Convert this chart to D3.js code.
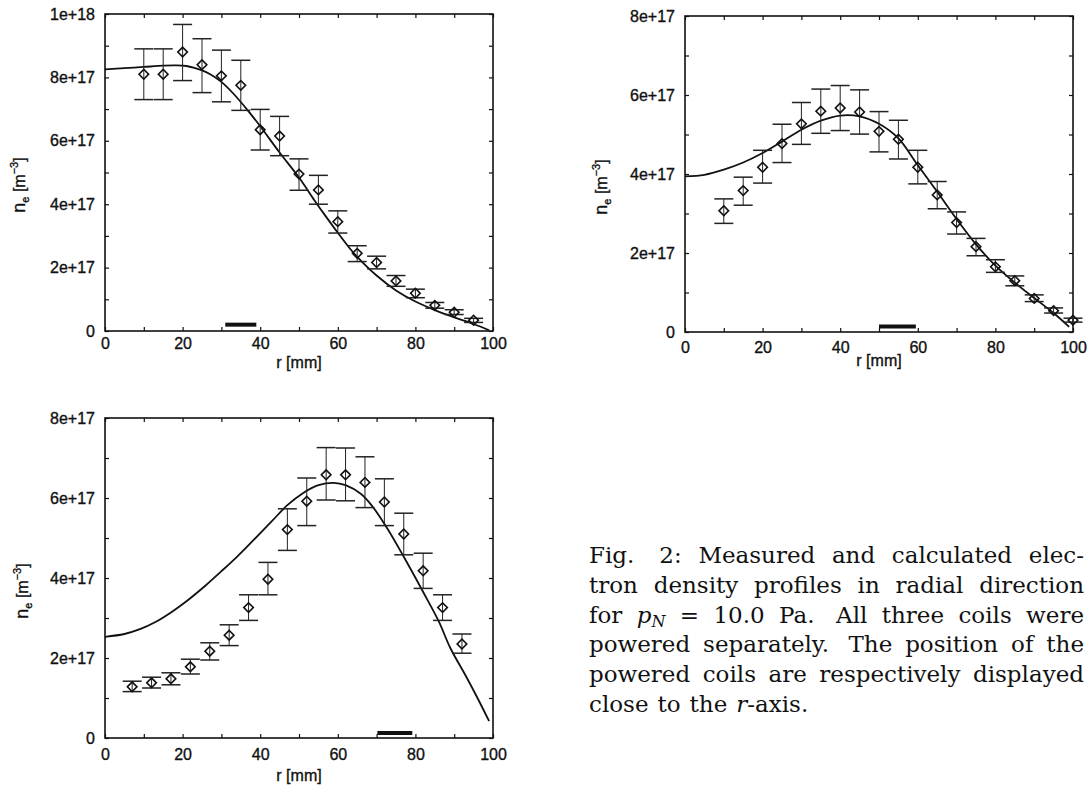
<!DOCTYPE html>
<html><head><meta charset="utf-8">
<script src="https://cdn.jsdelivr.net/npm/d3@7"></script>
<style>
html,body{margin:0;padding:0;background:#fff;}
svg{display:block;}
.tick text{font-family:"Liberation Sans",Arial,sans-serif;font-size:16px;fill:#111;stroke:#111;stroke-width:0.35px;}
.lab{font-family:"Liberation Sans",Arial,sans-serif;font-size:16px;fill:#111;stroke:#111;stroke-width:0.35px;}
.cap{font-family:"DejaVu Serif",serif;font-size:23px;fill:#111;}
</style></head><body>
<svg id="chart" width="1090" height="785"></svg>
<script>
// ================= DATA (densities in units of 1e17 m^-3, r in mm) =================
const xTickValues = [0, 20, 40, 60, 80, 100];
const xTickLabels = ["0", "20", "40", "60", "80", "100"];
const yTickValuesA = [0, 2, 4, 6, 8, 10];
const yTickLabelsA = ["0", "2e+17", "4e+17", "6e+17", "8e+17", "1e+18"];
const yTickValuesB = [0, 2, 4, 6, 8];
const yTickLabelsB = ["0", "2e+17", "4e+17", "6e+17", "8e+17"];

// Panel 1 (top left)
const r1   = [10, 15, 20, 25, 30, 35, 40, 45, 50, 55, 60, 65, 70, 75, 80, 85, 90, 95];
const ne1  = [8.1, 8.1, 8.8, 8.4, 8.05, 7.75, 6.35, 6.15, 4.95, 4.45, 3.45, 2.45, 2.16, 1.58, 1.19, 0.81, 0.59, 0.34];
const lo1  = [7.3, 7.3, 7.9, 7.52, 7.23, 6.96, 5.71, 5.53, 4.44, 4.0, 3.09, 2.19, 1.96, 1.41, 1.05, 0.72, 0.52, 0.27];
const hi1  = [8.9, 8.9, 9.67, 9.22, 8.86, 8.54, 6.99, 6.77, 5.43, 4.91, 3.79, 2.69, 2.36, 1.75, 1.32, 0.90, 0.67, 0.40];
const calcR1  = [0, 5, 10, 15, 18, 21, 25, 27, 30, 33, 37, 40, 45, 50, 54, 57, 60, 63, 65, 70, 75, 80, 85, 90, 95, 99];
const calcNe1 = [8.25, 8.29, 8.33, 8.37, 8.38, 8.36, 8.22, 8.11, 7.86, 7.5, 6.93, 6.46, 5.63, 4.84, 4.12, 3.6, 3.1, 2.62, 2.34, 1.75, 1.28, 0.93, 0.66, 0.43, 0.22, 0.02];
const coil1 = [31, 39];
const coilLevel1 = 0.2;

// Panel 2 (top right)
const r2   = [10, 15, 20, 25, 30, 35, 40, 45, 50, 55, 60, 65, 70, 75, 80, 85, 90, 95, 100];
const ne2  = [3.07, 3.58, 4.17, 4.77, 5.27, 5.59, 5.67, 5.57, 5.08, 4.88, 4.17, 3.47, 2.77, 2.16, 1.65, 1.30, 0.85, 0.54, 0.30];
const lo2  = [2.75, 3.21, 3.77, 4.29, 4.75, 5.03, 5.10, 5.01, 4.56, 4.38, 3.75, 3.12, 2.48, 1.93, 1.51, 1.17, 0.77, 0.48, 0.25];
const hi2  = [3.37, 3.92, 4.6, 5.26, 5.81, 6.15, 6.24, 6.13, 5.58, 5.36, 4.6, 3.81, 3.04, 2.37, 1.83, 1.42, 0.94, 0.61, 0.35];
const calcR2  = [0, 5, 10, 15, 20, 25, 30, 35, 40, 45, 50, 55, 60, 65, 70, 75, 80, 85, 90, 95, 99];
const calcNe2 = [3.94, 3.98, 4.11, 4.29, 4.53, 4.82, 5.12, 5.35, 5.48, 5.46, 5.27, 4.9, 4.22, 3.55, 2.86, 2.22, 1.68, 1.25, 0.86, 0.48, 0.13];
const coil2 = [50, 59.5];
const coilLevel2 = 0.14;

// Panel 3 (bottom left)
const r3   = [7, 12, 17, 22, 27, 32, 37, 42, 47, 52, 57, 62, 67, 72, 77, 82, 87, 92];
const ne3  = [1.28, 1.38, 1.48, 1.78, 2.17, 2.57, 3.26, 3.97, 5.21, 5.92, 6.58, 6.58, 6.39, 5.9, 5.1, 4.18, 3.26, 2.35];
const lo3  = [1.16, 1.25, 1.33, 1.6, 1.95, 2.31, 2.94, 3.58, 4.69, 5.31, 5.95, 5.93, 5.76, 5.31, 4.58, 3.74, 2.94, 2.12];
const hi3  = [1.42, 1.52, 1.63, 1.97, 2.38, 2.83, 3.58, 4.39, 5.73, 6.5, 7.26, 7.25, 7.03, 6.48, 5.62, 4.62, 3.58, 2.6];
const calcR3  = [0, 5, 9, 13, 17, 21, 26, 30, 34, 38, 43, 47, 51, 55, 59, 62, 66, 69, 73, 77, 82, 86, 89, 93, 96, 99];
const calcNe3 = [2.53, 2.6, 2.72, 2.9, 3.14, 3.42, 3.82, 4.17, 4.53, 4.92, 5.42, 5.82, 6.12, 6.32, 6.38, 6.32, 6.1, 5.78, 5.2, 4.53, 3.65, 2.92, 2.25, 1.55, 1.0, 0.42];
const coil3 = [70.2, 79.2];
const coilLevel3 = 0.125;

// Caption
const captionLines = [
  ["Fig.", "2:", "Measured", "and", "calculated", "elec-"],
  ["tron", "density", "profiles", "in", "radial", "direction"],
  ["for", [{t:"p", i:1}, {t:"N", i:1, sub:1}], "=", "10.0", "Pa.", "All", "three", "coils", "were"],
  ["powered", "separately.", "The", "position", "of", "the"],
  ["powered", "coils", "are", "respectively", "displayed"],
  ["close", "to", "the", [{t:"r", i:1}, {t:"-axis."}]]
];

// ================= LAYOUT =================
const svg = d3.select("#chart");
svg.append("rect").attr("width", 1090).attr("height", 785).attr("fill", "#fff");

const panels = [
  {left:105, right:493, top:14, bottom:331, ymax:10, yTV:yTickValuesA, yTL:yTickLabelsA,
   r:r1, ne:ne1, lo:lo1, hi:hi1, cr:calcR1, cn:calcNe1, coil:coil1, coilLevel:coilLevel1,
   xPad:7, xLabY:368, yLabX:25, yLabY:185},
  {left:685, right:1073, top:16, bottom:332, ymax:8, yTV:yTickValuesB, yTL:yTickLabelsB,
   r:r2, ne:ne2, lo:lo2, hi:hi2, cr:calcR2, cn:calcNe2, coil:coil2, coilLevel:coilLevel2,
   xPad:10, xLabY:366, yLabX:607, yLabY:187},
  {left:105, right:493, top:418, bottom:738, ymax:8, yTV:yTickValuesB, yTL:yTickLabelsB,
   r:r3, ne:ne3, lo:lo3, hi:hi3, cr:calcR3, cn:calcNe3, coil:coil3, coilLevel:coilLevel3,
   xPad:11, xLabY:781, yLabX:28, yLabY:591}
];

function drawPanel(p) {
  const g = svg.append("g");
  const x = d3.scaleLinear().domain([0, 100]).range([p.left, p.right]);
  const y = d3.scaleLinear().domain([0, p.ymax]).range([p.bottom, p.top]);
  const xAll = d3.range(0, 101, 10);
  const yAll = d3.range(0, p.ymax + 0.001, 1);
  const xFmt = v => { const i = xTickValues.indexOf(v); return i >= 0 ? xTickLabels[i] : ""; };
  const yFmt = v => { const i = p.yTV.indexOf(v); return i >= 0 ? p.yTL[i] : ""; };
  const clean = a => { a.select(".domain").remove(); a.attr("font-family", null).attr("font-size", null);
                       a.selectAll(".tick line").attr("stroke", "#111").attr("stroke-width", 1.2); };

  g.append("g").attr("transform", `translate(0,${p.bottom})`)
    .call(d3.axisBottom(x).tickValues(xAll).tickSize(-4).tickPadding(p.xPad).tickFormat(xFmt)).call(clean);
  g.append("g").attr("transform", `translate(0,${p.top})`)
    .call(d3.axisTop(x).tickValues(xAll).tickSize(-4).tickFormat(() => "")).call(clean);
  g.append("g").attr("transform", `translate(${p.left},0)`)
    .call(d3.axisLeft(y).tickValues(yAll).tickSize(-4).tickPadding(10).tickFormat(yFmt)).call(clean);
  g.append("g").attr("transform", `translate(${p.right},0)`)
    .call(d3.axisRight(y).tickValues(yAll).tickSize(-4).tickFormat(() => "")).call(clean);

  g.append("rect").attr("x", p.left).attr("y", p.top)
    .attr("width", p.right - p.left).attr("height", p.bottom - p.top)
    .attr("fill", "none").attr("stroke", "#111").attr("stroke-width", 1.6);

  // calculated curve
  const line = d3.line().x(d => x(d[0])).y(d => y(d[1])).curve(d3.curveCatmullRom.alpha(0.5));
  g.append("path").datum(d3.zip(p.cr, p.cn)).attr("d", line)
    .attr("fill", "none").attr("stroke", "#111").attr("stroke-width", 1.8);

  // error bars
  const pts = p.r.map((r, i) => ({r, v: p.ne[i], lo: p.lo[i], hi: p.hi[i]}));
  const eb = g.append("g").attr("stroke", "#222").attr("fill", "none");
  eb.selectAll("line.v").data(pts).join("line").attr("class", "v")
    .attr("x1", d => x(d.r)).attr("x2", d => x(d.r))
    .attr("y1", d => y(d.lo)).attr("y2", d => y(d.hi)).attr("stroke-width", 1);
  eb.selectAll("line.ct").data(pts).join("line").attr("class", "ct")
    .attr("x1", d => x(d.r) - 9.5).attr("x2", d => x(d.r) + 9.5)
    .attr("y1", d => y(d.hi)).attr("y2", d => y(d.hi)).attr("stroke-width", 1.5);
  eb.selectAll("line.cb").data(pts).join("line").attr("class", "cb")
    .attr("x1", d => x(d.r) - 9.5).attr("x2", d => x(d.r) + 9.5)
    .attr("y1", d => y(d.lo)).attr("y2", d => y(d.lo)).attr("stroke-width", 1.5);

  // diamonds
  const dia = d3.symbol().type(d3.symbolSquare).size(46);
  g.selectAll("path.pt").data(pts).join("path").attr("class", "pt")
    .attr("d", dia)
    .attr("transform", d => `translate(${x(d.r)},${y(d.v)}) rotate(45)`)
    .attr("fill", "none").attr("stroke", "#111").attr("stroke-width", 1.6);

  // coil position bar
  g.append("line").attr("x1", x(p.coil[0])).attr("x2", x(p.coil[1]))
    .attr("y1", y(p.coilLevel)).attr("y2", y(p.coilLevel))
    .attr("stroke", "#111").attr("stroke-width", 4);

  // axis labels
  g.append("text").attr("class", "lab").attr("x", (p.left + p.right) / 2).attr("y", p.xLabY)
    .attr("text-anchor", "middle").text("r [mm]");
  const yl = g.append("text").attr("class", "lab").attr("text-anchor", "middle")
    .attr("transform", `translate(${p.yLabX},${p.yLabY}) rotate(-90)`);
  yl.append("tspan").attr("font-size", 18).text("n");
  yl.append("tspan").attr("dy", 4).attr("font-size", 11).text("e");
  yl.append("tspan").attr("dy", -4).text(" [m");
  yl.append("tspan").attr("dy", -7).attr("font-size", 11).text("\u22123");
  yl.append("tspan").attr("dy", 7).text("]");
}
panels.forEach(drawPanel);

// caption, justified like the TeX original
const capLeft = 589, capRight = 1084, capBase = 563, capLead = 29.8;
captionLines.forEach((words, li) => {
  const yb = capBase + li * capLead;
  const nodes = words.map(w => {
    const t = svg.append("text").attr("class", "cap").attr("y", yb);
    const segs = typeof w === "string" ? [{t: w}] : w;
    segs.forEach(s => {
      const ts = t.append("tspan").text(s.t);
      if (s.i) ts.attr("font-style", "italic");
      if (s.sub) ts.attr("font-size", 16).attr("dy", 4);
    });
    return t;
  });
  const widths = nodes.map(n => n.node().getComputedTextLength());
  const last = li === captionLines.length - 1;
  const weights = words.slice(0, -1).map(w => (typeof w === "string" && /\.$/.test(w) && w !== "10.0") ? 1.5 : 1);
  const totalW = d3.sum(widths);
  const unit = last ? 9 : (capRight - capLeft - totalW) / d3.sum(weights);
  let xp = capLeft;
  nodes.forEach((n, i) => {
    n.attr("x", xp);
    xp += widths[i] + (i < weights.length ? unit * weights[i] : 0);
  });
});
</script>
</body></html>
